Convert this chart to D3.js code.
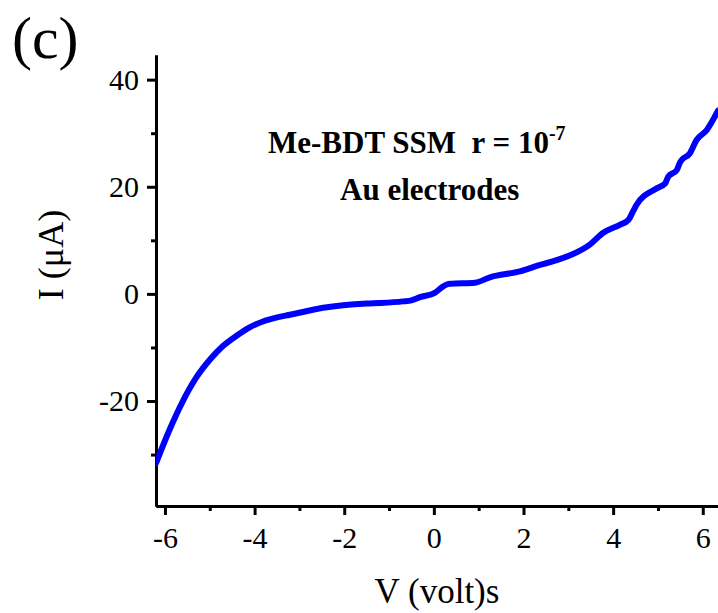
<!DOCTYPE html>
<html>
<head>
<meta charset="utf-8">
<script src="https://cdn.jsdelivr.net/npm/d3@7"></script>
<style>
    body { margin: 0; background: #ffffff; }
    svg { display: block; }
    svg text { font-family: "Liberation Serif", "Times New Roman", serif; fill: #000; }
    .axis path, .axis line { stroke: #000; stroke-width: 3; }
    .axis text { font-size: 30px; }
</style>
</head>
<body>
<div class="chartdiv"></div>
<script>
//data: voltage (V) and current (uA)
var voltage = [-6.2, -5.9, -5.6, -5.3, -5.0, -4.7, -4.4, -4.1, -3.8, -3.5, -3.21, -2.47,
    -1.5, -1.2, -0.69, -0.5, -0.31, 0.02, 0.21, 0.3, 0.36, 0.92,
    1.25, 1.92, 2.37, 2.74, 3.04, 3.48, 3.78, 4.15, 4.34, 4.45,
    4.52, 4.97, 5.16, 5.23, 5.42, 5.49, 5.53, 5.71, 5.86, 6.09, 6.34];
var current = [-31.6, -25.4, -20.0, -15.6, -12.3, -9.7, -7.8, -6.2, -5.1, -4.4, -3.9, -2.6,
    -1.8, -1.7, -1.4, -1.2, -0.6, 0.2, 1.4, 1.8, 1.9, 2.1,
    3.1, 4.2, 5.4, 6.3, 7.2, 9.2, 11.4, 12.9, 13.8, 15.5,
    16.6, 19.7, 20.6, 21.9, 23.1, 24.5, 25.0, 26.2, 28.7, 30.6, 34.2];

var xMajorTicks = [-6, -4, -2, 0, 2, 4, 6];
var xMinorTicks = [-5, -3, -1, 1, 3, 5];
var yMajorTicks = [-20, 0, 20, 40];
var yMinorTicks = [-30, -10, 10, 30];

var width = 718;
var height = 613;

//plot frame
var plotLeft = 156, plotRight = 718, plotTop = 55, plotBottom = 506;

var x = d3.scaleLinear()
    .domain([-6.2, 6.34])
    .range([plotLeft, plotRight]);

var y = d3.scaleLinear()
    .domain([-39.6, 44.6])
    .range([plotBottom, plotTop]);

var svg = d3.select("div.chartdiv")
    .append("svg")
    .attr("width", width)
    .attr("height", height);

svg.append("defs").append("clipPath")
    .attr("id", "plotclip")
    .append("rect")
    .attr("x", plotLeft)
    .attr("y", plotTop)
    .attr("width", plotRight - plotLeft)
    .attr("height", plotBottom - plotTop);

//minor ticks first, so the major axis sits on top
svg.append("g")
    .attr("class", "axis")
    .attr("transform", "translate(0," + plotBottom + ")")
    .call(d3.axisBottom(x).tickValues(xMinorTicks).tickSize(5).tickSizeOuter(0).tickFormat(""));

svg.append("g")
    .attr("class", "axis")
    .attr("transform", "translate(" + plotLeft + ",0)")
    .call(d3.axisLeft(y).tickValues(yMinorTicks).tickSize(5).tickSizeOuter(0).tickFormat(""));

svg.append("g")
    .attr("class", "axis")
    .attr("transform", "translate(0," + plotBottom + ")")
    .call(d3.axisBottom(x).tickValues(xMajorTicks).tickSize(9).tickSizeOuter(0)
        .tickPadding(12).tickFormat(function(d){ return String(d); }));

svg.append("g")
    .attr("class", "axis")
    .attr("transform", "translate(" + plotLeft + ",0)")
    .call(d3.axisLeft(y).tickValues(yMajorTicks).tickSize(9).tickSizeOuter(0)
        .tickPadding(8).tickFormat(function(d){ return String(d); }));

//the I-V curve
var points = voltage.map(function(v, i){ return [v, current[i]]; });

var line = d3.line()
    .x(function(d){ return x(d[0]); })
    .y(function(d){ return y(d[1]); })
    .curve(d3.curveMonotoneX);

svg.append("path")
    .datum(points)
    .attr("clip-path", "url(#plotclip)")
    .attr("d", line)
    .style("fill", "none")
    .style("stroke", "#0000ff")
    .style("stroke-width", 6)
    .style("stroke-linejoin", "round")
    .style("stroke-linecap", "round");

//axis titles
svg.append("text")
    .attr("x", 437)
    .attr("y", 603)
    .attr("text-anchor", "middle")
    .style("font-size", "35px")
    .text("V (volt)s");

svg.append("text")
    .attr("transform", "translate(63,255) rotate(-90)")
    .attr("text-anchor", "middle")
    .style("font-size", "36px")
    .text("I (\u03bcA)");

//panel letter
svg.append("text")
    .attr("x", 12)
    .attr("y", 58)
    .style("font-size", "60px")
    .text("(c)");

//annotation
var note = svg.append("text")
    .attr("x", 268)
    .attr("y", 153)
    .style("font-size", "31px")
    .style("font-weight", "bold")
    .style("white-space", "pre");
note.append("tspan").text("Me-BDT SSM  r = 10");
note.append("tspan")
    .attr("dy", -13)
    .style("font-size", "20px")
    .text("-7");

svg.append("text")
    .attr("x", 340)
    .attr("y", 200)
    .style("font-size", "31px")
    .style("font-weight", "bold")
    .text("Au electrodes");
</script>
</body>
</html>
